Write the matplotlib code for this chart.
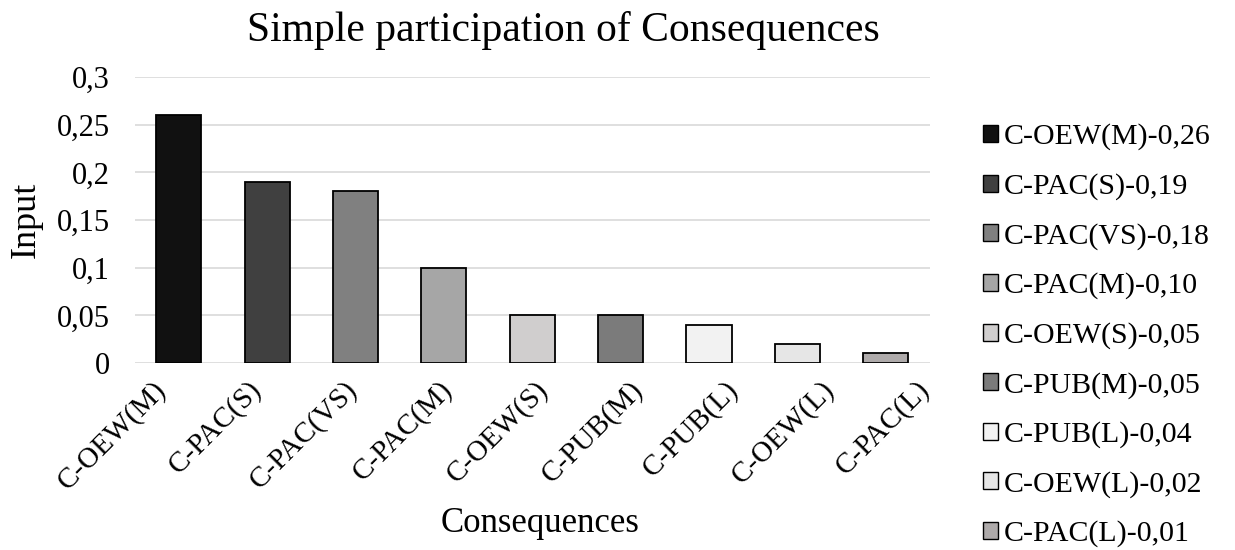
import numpy as np
import matplotlib.pyplot as plt
import matplotlib.transforms as mtransforms
from matplotlib.patches import Patch
from matplotlib.ticker import FuncFormatter

plt.rcParams['font.family'] = ['Liberation Serif', 'DejaVu Serif']

# Consequences and their simple participation
categories = ['C-OEW(M)', 'C-PAC(S)', 'C-PAC(VS)', 'C-PAC(M)', 'C-OEW(S)',
              'C-PUB(M)', 'C-PUB(L)', 'C-OEW(L)', 'C-PAC(L)']
values = [0.26, 0.19, 0.18, 0.10, 0.05, 0.05, 0.04, 0.02, 0.01]
colors = ['#111111', '#404040', '#808080', '#a6a6a6', '#d0cece',
          '#7b7b7b', '#f2f2f2', '#e6e6e6', '#aeaaaa']

fig = plt.figure(figsize=(12.35, 5.5), dpi=100)
ax = fig.add_axes([0.109, 0.34, 0.644, 0.52])

x = np.arange(len(categories))
ax.bar(x, values, width=0.51, color=colors, edgecolor='black', linewidth=1.3, zorder=3)

ax.set_xlim(-0.5, len(categories) - 0.5)
ax.set_ylim(0, 0.3)
ax.set_yticks(np.arange(0, 0.31, 0.05))
ax.yaxis.set_major_formatter(FuncFormatter(lambda v, p: f'{v:.2f}'.rstrip('0').rstrip('.').replace('.', ',') if v else '0'))
ax.grid(axis='y', color='#d9d9d9', linewidth=1.2, zorder=0)
for s in ax.spines.values():
    s.set_visible(False)
ax.tick_params(axis='both', length=0, labelsize=22)
ax.tick_params(axis='y', pad=18)

# rotated category labels, spread a little wider than the bars
ax.set_xticks(x)
ax.set_xticklabels(categories, rotation=45, ha='right', va='top', rotation_mode='anchor', fontsize=21)
for i, lbl in enumerate(ax.get_xticklabels()):
    shift = mtransforms.ScaledTranslation((-0.26 + 0.07 * i), -0.08, fig.dpi_scale_trans)
    lbl.set_transform(lbl.get_transform() + shift)

fig.text(0.456, 0.945, 'Simple participation of Consequences', fontsize=30, ha='center', va='center')
ax.set_ylabel('Input', fontsize=26, labelpad=10)
fig.text(0.437, 0.048, 'Consequences', fontsize=25, ha='center', va='center')

# legend labels carry the value of each bar
labels = [f'{c}-{v:.2f}'.replace('.', ',') for c, v in zip(categories, values)]
handles = [Patch(facecolor=c, edgecolor='black', linewidth=1.0) for c in colors]
fig.legend(handles, labels, loc='center left', bbox_to_anchor=(0.774, 0.39),
           frameon=False, fontsize=21.5, handlelength=0.5, handleheight=0.5,
           handletextpad=0.2, labelspacing=0.76)

fig.savefig('out.png', dpi=100)
